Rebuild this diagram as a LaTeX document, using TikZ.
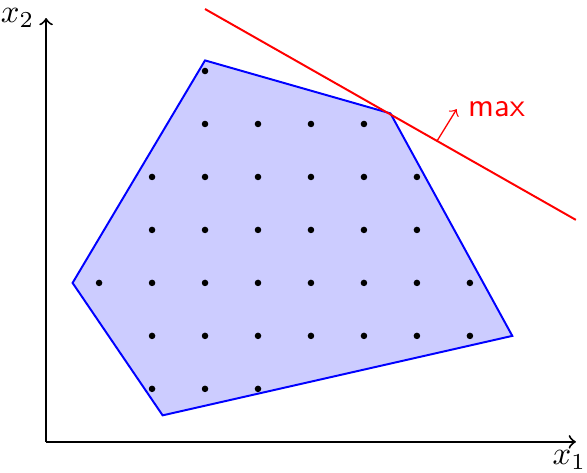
\documentclass[tikz,border=0pt]{standalone}
\usepackage{amsmath}
\usepackage{tikz}
\usetikzlibrary{calc}

\begin{document}
\begin{tikzpicture}[x=0.57cm,y=0.57cm,>=to,semithick]
  \useasboundingbox (-0.87,-0.57) rectangle (10.21,8.34);
  % axes
  \draw[->] (0,0) -- (10,0) node[below,xshift=-2pt,yshift=1pt] {$x_1$};
  \draw[->] (0,0) -- (0,8) node[left] {$x_2$};
  % feasible region
  \coordinate (p1) at (0.5,3);
  \coordinate (p2) at (3,7.2);
  \coordinate (p3) at (6.5,6.2);
  \coordinate (p4) at (8.8,2);
  \coordinate (p5) at (2.2,0.5);
  \filldraw[blue,fill=blue!20] (p1)--(p2)--(p3)--(p4)--(p5)--cycle;
  % integer points
  \foreach \x/\y in {3/7,3/6,4/6,5/6,6/6,
    2/5,3/5,4/5,5/5,6/5,7/5,
    2/4,3/4,4/4,5/4,6/4,7/4,
    1/3,2/3,3/3,4/3,5/3,6/3,7/3,8/3,
    2/2,3/2,4/2,5/2,6/2,7/2,8/2,
    2/1,3/1,4/1}{
    \fill (\x,\y) circle (1pt);
  }
  % objective
  \draw[red] (3,8.17) -- (10,4.19);
  \coordinate (m0) at (7.38,5.68);
  \coordinate (m1) at (7.75,6.28);
  \draw[thin,red,->] (m0) -- (m1) node[right] {\textsf{max}};
\end{tikzpicture}
\end{document}
